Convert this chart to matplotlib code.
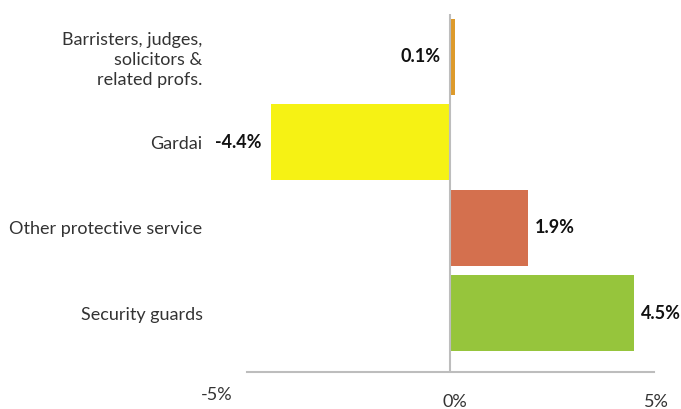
import matplotlib
matplotlib.use("Agg")
import matplotlib.pyplot as plt
import matplotlib.transforms as mtransforms

plt.rcParams['font.family'] = ['Lato', 'DejaVu Sans']

# annual change by occupation, %
occupations = ["Barristers, judges,\nsolicitors &\nrelated profs.",
               "Gardai",
               "Other protective service",
               "Security guards"]
change = [0.1, -4.4, 1.9, 4.5]
bar_colours = ["#DD9A2B", "#F6F214", "#D4704E", "#96C53C"]
tick_values = [-5, 0, 5]
tick_labels = ["-5%", "0%", "5%"]

W, H, DPI = 681, 409, 100
fig = plt.figure(figsize=(W / DPI, H / DPI), dpi=DPI)
ax = fig.add_axes([247 / W, 1 - 372 / H, (654 - 247) / W, (372 - 14) / H])

pos = list(range(len(occupations)))
ax.barh(pos, change, height=0.89, color=bar_colours, zorder=2)

ax.set_xlim(-5, 5)
ax.set_ylim(3.69, -0.5)

# zero line and bottom axis
ax.axvline(0, color="#BDBDBD", lw=1.5, zorder=3)
for s in ["top", "right", "left"]:
    ax.spines[s].set_visible(False)
ax.spines["bottom"].set_color("#BDBDBD")
ax.spines["bottom"].set_linewidth(1.5)

ax.set_yticks(pos)
ax.set_yticklabels(occupations, fontsize=13, color="#333333", linespacing=1.3)
ax.tick_params(axis="y", length=0, pad=32)

ax.set_xticks(tick_values)
ax.set_xticklabels(tick_labels, fontsize=13, color="#333333")
ax.tick_params(axis="x", length=0, pad=0)
# nudge the x tick labels into place
shifts = [(-22, -11), (3, -16), (2, -16)]
for lab, (dx, dy) in zip(ax.get_xticklabels(), shifts):
    off = mtransforms.ScaledTranslation(dx / 72, dy / 72, fig.dpi_scale_trans)
    lab.set_transform(lab.get_transform() + off)

# value labels
for p, v in zip(pos, change):
    txt = f"{v:.1f}%"
    if v < 0.5:
        x = min(v, 0)
        tr = ax.transData + mtransforms.ScaledTranslation(-7 / 72, 0, fig.dpi_scale_trans)
        ax.text(x, p, txt, ha="right", va="center", fontsize=13, fontweight="bold",
                color="#111111", transform=tr)
    else:
        tr = ax.transData + mtransforms.ScaledTranslation(5 / 72, 0, fig.dpi_scale_trans)
        ax.text(v, p, txt, ha="left", va="center", fontsize=13, fontweight="bold",
                color="#111111", transform=tr)

fig.savefig("out.png", dpi=DPI)
